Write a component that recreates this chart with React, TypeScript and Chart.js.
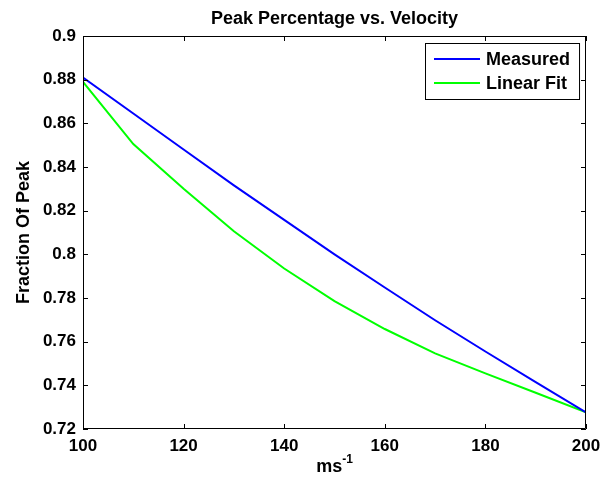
import React, { useEffect, useRef } from "react";
import { Chart, registerables } from "chart.js";

Chart.register(...registerables);

const titleText = "Peak Percentage vs. Velocity";
const yAxisLabel = "Fraction Of Peak";
const xAxisLabelBase = "ms";
const xAxisLabelSup = "-1";

const velocities = [100, 110, 120, 130, 140, 150, 160, 170, 180, 190, 200];
const measured = [0.881, 0.8645, 0.848, 0.8316, 0.8158, 0.8, 0.7848, 0.7698, 0.7555, 0.7415, 0.7276];
const linearFit = [0.879, 0.8505, 0.83, 0.8106, 0.7935, 0.7786, 0.7658, 0.7546, 0.7455, 0.7366, 0.7276];

const xTicks = [100, 120, 140, 160, 180, 200];
const yTicks = [0.72, 0.74, 0.76, 0.78, 0.8, 0.82, 0.84, 0.86, 0.88, 0.9];
const yTickLabels = ["0.72", "0.74", "0.76", "0.78", "0.8", "0.82", "0.84", "0.86", "0.88", "0.9"];

const seriesNames = ["Measured", "Linear Fit"];
const seriesColors = ["#0000ff", "#00ff00"];

const FONT = "'Liberation Sans', Arial, Helvetica, sans-serif";

const matlabPlugin = {
  id: "matlabDecor",
  afterDatasetsDraw(chart: any) {
    const ctx = chart.ctx as CanvasRenderingContext2D;
    const { left, right, top, bottom } = chart.chartArea;
    const xs = chart.scales.x;
    const ys = chart.scales.y;
    ctx.save();
    // frame
    ctx.strokeStyle = "#000";
    ctx.lineWidth = 1;
    ctx.beginPath();
    ctx.rect(Math.round(left) + 0.5, Math.round(top) + 0.5, Math.round(right - left) - 1, Math.round(bottom - top) - 1);
    ctx.stroke();
    // inner ticks
    const tl = 5;
    ctx.beginPath();
    xs.ticks.forEach((t: any) => {
      const px = Math.round(xs.getPixelForValue(t.value)) + 0.5;
      ctx.moveTo(px, bottom);
      ctx.lineTo(px, bottom - tl);
      ctx.moveTo(px, top);
      ctx.lineTo(px, top + tl);
    });
    ys.ticks.forEach((t: any) => {
      const py = Math.round(ys.getPixelForValue(t.value)) + 0.5;
      ctx.moveTo(left, py);
      ctx.lineTo(left + tl, py);
      ctx.moveTo(right, py);
      ctx.lineTo(right - tl, py);
    });
    ctx.stroke();

    // title
    ctx.fillStyle = "#000";
    ctx.font = `bold 18px ${FONT}`;
    ctx.textAlign = "center";
    ctx.textBaseline = "alphabetic";
    ctx.fillText(titleText, (left + right) / 2, 24);

    // y label
    ctx.save();
    ctx.translate(29, (top + bottom) / 2);
    ctx.rotate(-Math.PI / 2);
    ctx.textAlign = "center";
    ctx.fillText(yAxisLabel, 0, 0);
    ctx.restore();

    // x label with superscript
    ctx.font = `bold 18px ${FONT}`;
    const wBase = ctx.measureText(xAxisLabelBase).width;
    ctx.font = `bold 12px ${FONT}`;
    const wSup = ctx.measureText(xAxisLabelSup).width;
    const startX = (left + right) / 2 - (wBase + wSup) / 2;
    ctx.textAlign = "left";
    ctx.font = `bold 18px ${FONT}`;
    ctx.fillText(xAxisLabelBase, startX, 472);
    ctx.font = `bold 12px ${FONT}`;
    ctx.fillText(xAxisLabelSup, startX + wBase, 463);

    // legend
    ctx.font = `bold 18px ${FONT}`;
    const textW = Math.max(...seriesNames.map((n) => ctx.measureText(n).width));
    const padL = 9, lineLen = 46, gap = 6, padR = 9;
    const boxW = padL + lineLen + gap + textW + padR;
    const boxH = 56;
    const bx = Math.round(right - 7 - boxW);
    const by = Math.round(top + 7);
    ctx.fillStyle = "#fff";
    ctx.fillRect(bx, by, boxW, boxH);
    ctx.strokeStyle = "#000";
    ctx.strokeRect(bx + 0.5, by + 0.5, boxW, boxH);
    chart.data.datasets.forEach((ds: any, i: number) => {
      const cy = by + 16 + i * 24;
      ctx.strokeStyle = ds.borderColor;
      ctx.lineWidth = 2;
      ctx.beginPath();
      ctx.moveTo(bx + padL, cy);
      ctx.lineTo(bx + padL + lineLen, cy);
      ctx.stroke();
      ctx.fillStyle = "#000";
      ctx.textAlign = "left";
      ctx.textBaseline = "middle";
      ctx.fillText(ds.label, bx + padL + lineLen + gap, cy + 1);
    });
    ctx.restore();
  },
};

export default function App() {
  const ref = useRef<HTMLCanvasElement | null>(null);
  useEffect(() => {
    document.body.style.margin = "0";
    document.body.style.background = "#fff";
    const canvas = ref.current!;
    const chart = new Chart(canvas, {
      type: "line",
      data: {
        datasets: [
          {
            label: seriesNames[0],
            data: velocities.map((v, i) => ({ x: v, y: measured[i] })),
            borderColor: seriesColors[0],
            borderWidth: 2,
            pointRadius: 0,
            tension: 0,
            fill: false,
          },
          {
            label: seriesNames[1],
            data: velocities.map((v, i) => ({ x: v, y: linearFit[i] })),
            borderColor: seriesColors[1],
            borderWidth: 2,
            pointRadius: 0,
            tension: 0,
            fill: false,
          },
        ],
      },
      options: {
        animation: false,
        responsive: false,
        devicePixelRatio: 1,
        layout: { padding: { left: 0, right: 23, top: 36, bottom: 0 } },
        plugins: {
          legend: { display: false },
          title: { display: false },
          tooltip: { enabled: false },
        },
        scales: {
          x: {
            type: "linear",
            min: 100,
            max: 200,
            afterFit: (s: any) => {
              s.height = 50;
            },
            afterBuildTicks: (s: any) => {
              s.ticks = xTicks.map((v) => ({ value: v }));
            },
            grid: { display: false, drawTicks: false },
            border: { display: false },
            ticks: {
              color: "#000",
              font: { family: FONT, size: 17, weight: "bold" },
              padding: 7,
              maxRotation: 0,
              autoSkip: false,
              callback: (v: any) => String(v),
            },
          },
          y: {
            type: "linear",
            min: 0.72,
            max: 0.9,
            afterFit: (s: any) => {
              s.width = 83;
            },
            afterBuildTicks: (s: any) => {
              s.ticks = yTicks.map((v) => ({ value: v }));
            },
            grid: { display: false, drawTicks: false },
            border: { display: false },
            ticks: {
              color: "#000",
              font: { family: FONT, size: 17, weight: "bold" },
              padding: 7,
              autoSkip: false,
              callback: (v: any) => {
                const idx = yTicks.findIndex((t) => Math.abs(t - v) < 1e-9);
                return idx >= 0 ? yTickLabels[idx] : "";
              },
            },
          },
        },
      },
      plugins: [matlabPlugin],
    });
    return () => chart.destroy();
  }, []);
  return <canvas ref={ref} width={609} height={479} style={{ display: "block" }} />;
}
